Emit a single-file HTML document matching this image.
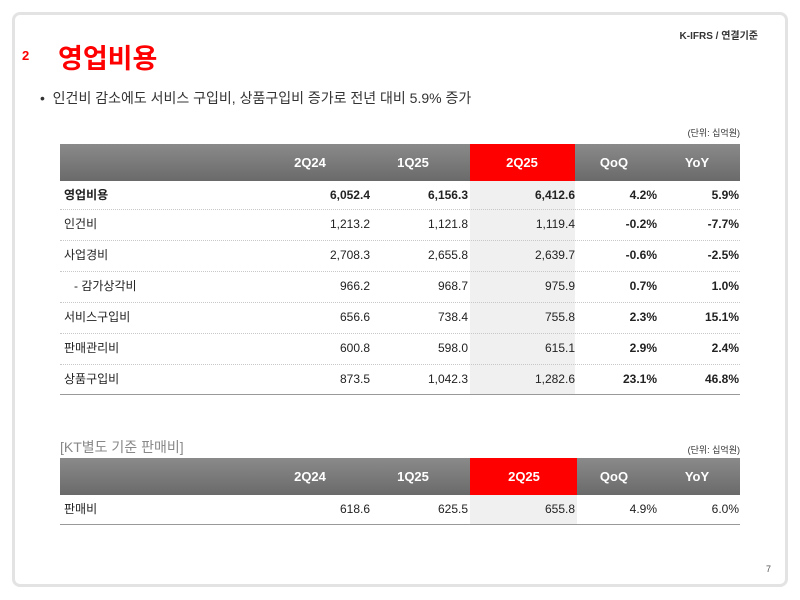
<!DOCTYPE html>
<html><head><meta charset="utf-8"><style>
*{margin:0;padding:0;box-sizing:border-box}
body{width:800px;height:600px;background:#fff;position:relative;font-family:"Liberation Sans","Noto Sans CJK KR",sans-serif;color:#222;overflow:hidden}
.frame{position:absolute;left:12px;top:12px;width:776px;height:575px;border:3px solid #e3e3e3;border-radius:8px}
.a{position:absolute;white-space:nowrap}
.hdr{position:absolute;left:60px;width:680px;height:37px;background:linear-gradient(#8a8a8a,#6a6a6a)}
.red{position:absolute;background:#ff0000}
.hc{position:absolute;color:#fff;font-size:13px;font-weight:bold;text-align:center;width:90px}
.row{position:absolute;left:60px;width:680px;border-bottom:1px dotted #c8c8c8;font-size:12px}
.row span{position:absolute;top:0;line-height:29px;white-space:nowrap}
.r{text-align:right}
.b{font-weight:bold}
.shade{position:absolute;background:#f0f0f0}
</style></head><body>
<div class="frame"></div>
<div class="a" style="right:42px;top:27px;font-size:10px;font-weight:bold;color:#333">K-IFRS / 연결기준</div>
<div class="a" style="left:22px;top:48px;font-size:13px;color:#f00;font-weight:bold">2</div>
<div class="a" style="left:58px;top:37px;font-size:27px;color:#f00;font-weight:bold">영업비용</div>
<div class="a" style="left:40px;top:88px;font-size:14px;color:#333">•&nbsp; 인건비 감소에도 서비스 구입비, 상품구입비 증가로 전년 대비 5.9% 증가</div>
<div class="a" style="right:60px;top:126px;font-size:9px;color:#333">(단위: 십억원)</div>

<div class="hdr" style="top:144px"></div>
<div class="red" style="left:470px;top:144px;width:105px;height:37px"></div>
<div class="shade" style="left:470px;top:181px;width:105px;height:214px"></div>
<div class="hc" style="left:265px;top:155px">2Q24</div>
<div class="hc" style="left:368px;top:155px">1Q25</div>
<div class="hc" style="left:477px;top:155px">2Q25</div>
<div class="hc" style="left:569px;top:155px">QoQ</div>
<div class="hc" style="left:652px;top:155px">YoY</div>

<div class="row" style="top:181px;height:29px;font-weight:bold"><span style="left:4px">영업비용</span><span class="r" style="right:370px">6,052.4</span><span class="r" style="right:272px">6,156.3</span><span class="r" style="right:165px">6,412.6</span><span class="r" style="right:83px">4.2%</span><span class="r" style="right:1px">5.9%</span></div>
<div class="row" style="top:210px;height:31px"><span style="left:4px">인건비</span><span style="right:370px">1,213.2</span><span style="right:272px">1,121.8</span><span style="right:165px">1,119.4</span><span class="b" style="right:83px">-0.2%</span><span class="b" style="right:1px">-7.7%</span></div>
<div class="row" style="top:241px;height:31px"><span style="left:4px">사업경비</span><span style="right:370px">2,708.3</span><span style="right:272px">2,655.8</span><span style="right:165px">2,639.7</span><span class="b" style="right:83px">-0.6%</span><span class="b" style="right:1px">-2.5%</span></div>
<div class="row" style="top:272px;height:31px"><span style="left:14px">- 감가상각비</span><span style="right:370px">966.2</span><span style="right:272px">968.7</span><span style="right:165px">975.9</span><span class="b" style="right:83px">0.7%</span><span class="b" style="right:1px">1.0%</span></div>
<div class="row" style="top:303px;height:31px"><span style="left:4px">서비스구입비</span><span style="right:370px">656.6</span><span style="right:272px">738.4</span><span style="right:165px">755.8</span><span class="b" style="right:83px">2.3%</span><span class="b" style="right:1px">15.1%</span></div>
<div class="row" style="top:334px;height:31px"><span style="left:4px">판매관리비</span><span style="right:370px">600.8</span><span style="right:272px">598.0</span><span style="right:165px">615.1</span><span class="b" style="right:83px">2.9%</span><span class="b" style="right:1px">2.4%</span></div>
<div class="row" style="top:365px;height:30px;border-bottom:1px solid #999"><span style="left:4px">상품구입비</span><span style="right:370px">873.5</span><span style="right:272px">1,042.3</span><span style="right:165px">1,282.6</span><span class="b" style="right:83px">23.1%</span><span class="b" style="right:1px">46.8%</span></div>

<div class="a" style="left:60px;top:437px;font-size:14px;color:#888">[KT별도 기준 판매비]</div>
<div class="a" style="right:60px;top:443px;font-size:9px;color:#333">(단위: 십억원)</div>
<div class="hdr" style="top:458px"></div>
<div class="red" style="left:470px;top:458px;width:107px;height:37px"></div>
<div class="shade" style="left:470px;top:495px;width:107px;height:30px"></div>
<div class="hc" style="left:265px;top:469px">2Q24</div>
<div class="hc" style="left:368px;top:469px">1Q25</div>
<div class="hc" style="left:479px;top:469px">2Q25</div>
<div class="hc" style="left:569px;top:469px">QoQ</div>
<div class="hc" style="left:652px;top:469px">YoY</div>
<div class="row" style="top:495px;height:30px;border-bottom:1px solid #999"><span style="left:4px">판매비</span><span style="right:370px">618.6</span><span style="right:272px">625.5</span><span style="right:165px">655.8</span><span style="right:83px">4.9%</span><span style="right:1px">6.0%</span></div>

<div class="a" style="left:766px;top:564px;font-size:9px;color:#555">7</div>
</body></html>
